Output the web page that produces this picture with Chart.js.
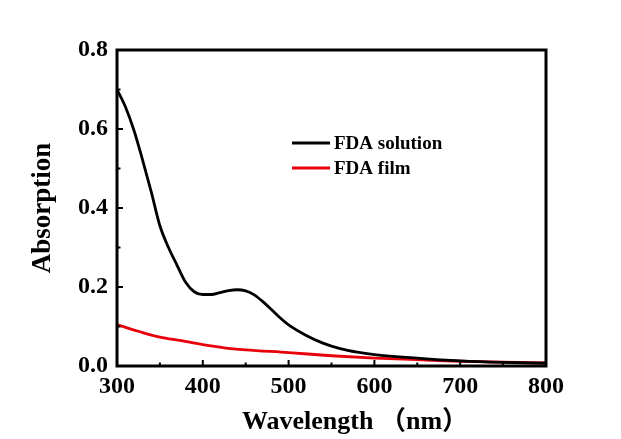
<!DOCTYPE html>
<html>
<head>
<meta charset="utf-8">
<script src="https://cdn.jsdelivr.net/npm/chart.js@4/dist/chart.umd.min.js"></script>
<style>
  html, body { margin: 0; padding: 0; background: #fff; }
  #wrap { width: 621px; height: 439px; }
</style>
</head>
<body>
<div id="wrap"><canvas id="myChart" width="621" height="439"></canvas></div>
<script>
// data
var solutionX = [300, 310, 320, 330, 340, 350, 360, 370, 380, 390, 400, 410, 420, 430, 440, 450, 460, 470, 480, 490, 500, 520, 540, 560, 580, 600, 650, 700, 750, 800];
var solutionY = [0.70, 0.655, 0.595, 0.52, 0.44, 0.355, 0.30, 0.255, 0.212, 0.188, 0.181, 0.181, 0.186, 0.191, 0.193, 0.190, 0.180, 0.163, 0.143, 0.122, 0.104, 0.078, 0.058, 0.044, 0.035, 0.029, 0.020, 0.013, 0.009, 0.007];
var filmX = [300, 325, 350, 375, 400, 425, 450, 500, 550, 600, 650, 700, 750, 800];
var filmY = [0.105, 0.088, 0.073, 0.064, 0.054, 0.046, 0.041, 0.034, 0.026, 0.020, 0.016, 0.012, 0.010, 0.008];
var xTicks = [300, 400, 500, 600, 700, 800];
var yTicks = [0.0, 0.2, 0.4, 0.6, 0.8];
var xMinor = [350, 450, 550, 650, 750];
var yMinor = [0.1, 0.3, 0.5, 0.7];
var seriesNames = ["FDA solution", "FDA film"];
var xTitle = "Wavelength （nm）";

function pts(xs, ys) {
	return xs.map(function (x, i) { return { x: x, y: ys[i] }; });
}

// frame, inward ticks, x title and legend
var framePlugin = {
	id: "frame",
	afterDraw: function (chart) {
		var ctx = chart.ctx;
		var a = chart.chartArea;
		var xs = chart.scales.x, ys = chart.scales.y;
		ctx.save();
		ctx.strokeStyle = "#000";
		ctx.lineWidth = 3;
		ctx.strokeRect(a.left, a.top, a.right - a.left, a.bottom - a.top);
		ctx.lineWidth = 2;
		ctx.beginPath();
		xTicks.forEach(function (v) {
			var p = xs.getPixelForValue(v);
			ctx.moveTo(p, a.bottom); ctx.lineTo(p, a.bottom - 6);
		});
		xMinor.forEach(function (v) {
			var p = xs.getPixelForValue(v);
			ctx.moveTo(p, a.bottom); ctx.lineTo(p, a.bottom - 3.5);
		});
		yTicks.forEach(function (v) {
			var p = ys.getPixelForValue(v);
			ctx.moveTo(a.left, p); ctx.lineTo(a.left + 6, p);
		});
		yMinor.forEach(function (v) {
			var p = ys.getPixelForValue(v);
			ctx.moveTo(a.left, p); ctx.lineTo(a.left + 3.5, p);
		});
		ctx.stroke();

		// x axis title
		ctx.fillStyle = "#000";
		ctx.font = "bold 26px 'Liberation Serif', 'Noto Sans CJK SC'";
		ctx.textBaseline = "middle";
		ctx.textAlign = "left";
		ctx.fillText(xTitle, 242, 422);

		// legend
		ctx.font = "bold 19px 'Liberation Serif'";
		chart.data.datasets.forEach(function (ds, i) {
			var y = 143 + i * 25;
			ctx.strokeStyle = ds.borderColor;
			ctx.lineWidth = 2.8;
			ctx.beginPath();
			ctx.moveTo(292, y); ctx.lineTo(330, y);
			ctx.stroke();
			ctx.fillStyle = "#000";
			ctx.fillText(ds.label, 334, y + 1);
		});
		ctx.restore();
	}
};

const ctx = document.getElementById("myChart").getContext("2d");
const myChart = new Chart(ctx, {
	type: "line",
	data: {
		datasets: [
			{
				label: seriesNames[0],
				data: pts(solutionX, solutionY),
				borderColor: "#000000",
				borderWidth: 2.8,
				pointRadius: 0,
				cubicInterpolationMode: "monotone",
			},
			{
				label: seriesNames[1],
				data: pts(filmX, filmY),
				borderColor: "#e8000b",
				borderWidth: 2.8,
				pointRadius: 0,
				cubicInterpolationMode: "monotone",
			},
		],
	},
	options: {
		responsive: false,
		animation: false,
		layout: { padding: { left: 0, right: 75, top: 50, bottom: 0 } },
		plugins: { legend: { display: false }, tooltip: { enabled: false } },
		scales: {
			x: {
				type: "linear",
				min: 300,
				max: 800,
				afterBuildTicks: function (s) { s.ticks = xTicks.map(function (v) { return { value: v }; }); },
				afterFit: function (s) { s.height = 73; },
				grid: { display: false, drawTicks: false },
				border: { display: false },
				ticks: { color: "#000", padding: 6, font: { family: "Liberation Serif", weight: "bold", size: 24 } },
			},
			y: {
				min: 0,
				max: 0.8,
				afterBuildTicks: function (s) { s.ticks = yTicks.map(function (v) { return { value: v }; }); },
				afterFit: function (s) { s.width = 117; },
				grid: { display: false, drawTicks: false },
				border: { display: false },
				ticks: {
					color: "#000",
					padding: 9,
					font: { family: "Liberation Serif", weight: "bold", size: 24 },
					callback: function (v) { return v.toFixed(1); },
				},
				title: {
					display: true,
					text: "Absorption",
					color: "#000",
					padding: { top: 27, bottom: 0 },
					font: { family: "Liberation Serif", weight: "bold", size: 27 },
				},
			},
		},
	},
	plugins: [framePlugin],
});
</script>
</body>
</html>
